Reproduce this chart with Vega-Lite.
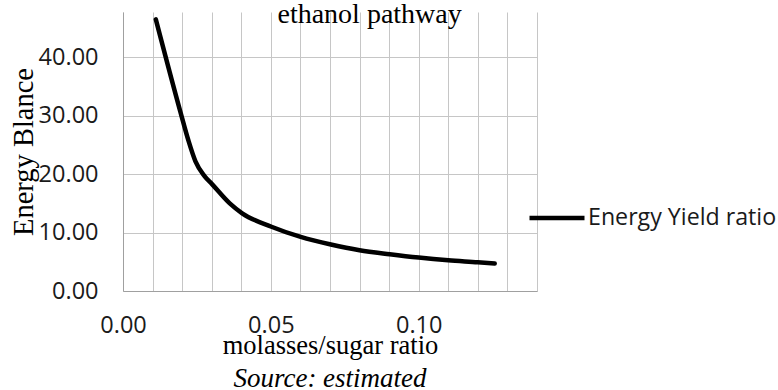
{
  "$schema": "https://vega.github.io/schema/vega-lite/v6.json",
  "autosize": {"type": "none"},
  "width": 414,
  "height": 279,
  "padding": {"left": 123, "top": 12, "right": 241, "bottom": 99},
  "background": "white",
  "config": {"view": {"stroke": null}},
  "title": {
    "text": "Source:  estimated",
    "orient": "bottom",
    "anchor": "middle",
    "font": "Liberation Serif",
    "fontStyle": "italic",
    "fontWeight": "normal",
    "fontSize": 27,
    "color": "black",
    "offset": 7
  },
  "layer": [
    {
      "data": {
        "values": [
          {"x": 0.0111, "y": 46.5, "series": "Energy Yield ratio"},
          {"x": 0.0195, "y": 30.5, "series": "Energy Yield ratio"},
          {"x": 0.0221, "y": 25.8, "series": "Energy Yield ratio"},
          {"x": 0.0245, "y": 22.2, "series": "Energy Yield ratio"},
          {"x": 0.0275, "y": 19.7, "series": "Energy Yield ratio"},
          {"x": 0.0301, "y": 18.3, "series": "Energy Yield ratio"},
          {"x": 0.0361, "y": 15.0, "series": "Energy Yield ratio"},
          {"x": 0.0403, "y": 13.3, "series": "Energy Yield ratio"},
          {"x": 0.0502, "y": 11.0, "series": "Energy Yield ratio"},
          {"x": 0.0601, "y": 9.25, "series": "Energy Yield ratio"},
          {"x": 0.0703, "y": 7.95, "series": "Energy Yield ratio"},
          {"x": 0.0800, "y": 6.97, "series": "Energy Yield ratio"},
          {"x": 0.0902, "y": 6.29, "series": "Energy Yield ratio"},
          {"x": 0.1000, "y": 5.72, "series": "Energy Yield ratio"},
          {"x": 0.1100, "y": 5.26, "series": "Energy Yield ratio"},
          {"x": 0.1200, "y": 4.92, "series": "Energy Yield ratio"},
          {"x": 0.1257, "y": 4.70, "series": "Energy Yield ratio"}
        ]
      },
      "mark": {"type": "line", "interpolate": "monotone", "strokeWidth": 4.5, "strokeCap": "round", "strokeJoin": "round", "clip": false},
      "encoding": {
        "x": {
          "field": "x",
          "type": "quantitative",
          "scale": {"domain": [0, 0.14], "nice": false, "zero": false},
          "axis": {
            "title": "molasses/sugar ratio",
            "titleFont": "Liberation Serif",
            "titleFontSize": 26.5,
            "titleFontWeight": "normal",
            "titleColor": "black",
            "titleBaseline": "alphabetic",
            "titleY": 62,
            "values": [0, 0.01, 0.02, 0.03, 0.04, 0.05, 0.06, 0.07, 0.08, 0.09, 0.1, 0.11, 0.12, 0.13, 0.14],
            "tickCount": 30,
            "labelExpr": "(format(datum.value, '.2f') == '0.00' || format(datum.value, '.2f') == '0.05' || format(datum.value, '.2f') == '0.10') ? format(datum.value, '.2f') : ''",
            "labelFont": "Open Sans",
            "labelFontSize": 23.5,
            "labelColor": "#1a1a1a",
            "labelBaseline": "alphabetic",
            "labelPadding": 41,
            "labelFlush": false,
            "labelOverlap": false,
            "ticks": false,
            "tickSize": 0,
            "grid": true,
            "gridColor": "#c6c6c6",
            "gridWidth": 1,
            "domainColor": "#a0a0a0",
            "domainWidth": 1
          }
        },
        "y": {
          "field": "y",
          "type": "quantitative",
          "scale": {"domain": [0, 47.76], "nice": false, "zero": true},
          "axis": {
            "title": "Energy Blance",
            "titleFont": "Liberation Serif",
            "titleFontSize": 28.5,
            "titleFontWeight": "normal",
            "titleColor": "black",
            "titleBaseline": "alphabetic",
            "titleAngle": -90,
            "titleX": -91,
            "titleY": 139.5,
            "titleAlign": "center",
            "values": [0, 10, 20, 30, 40],
            "tickCount": 10,
            "format": ".2f",
            "labelFont": "Open Sans",
            "labelFontSize": 23.5,
            "labelColor": "#1a1a1a",
            "labelPadding": 25,
            "ticks": false,
            "tickSize": 0,
            "grid": true,
            "gridColor": "#c6c6c6",
            "gridWidth": 1,
            "domainColor": "#a0a0a0",
            "domainWidth": 1
          }
        },
        "color": {
          "field": "series",
          "type": "nominal",
          "scale": {"range": ["black"]},
          "legend": {
            "title": null,
            "orient": "none",
            "legendX": 404,
            "legendY": 176,
            "padding": 0,
            "symbolType": "stroke",
            "symbolSize": 3025,
            "symbolStrokeWidth": 4.5,
            "symbolOffset": 0,
            "labelOffset": 1,
            "labelFont": "Open Sans",
            "labelFontSize": 23.2,
            "labelColor": "#1a1a1a",
            "labelLimit": 400
          }
        }
      }
    },
    {
      "data": {"values": [{"label": "ethanol pathway"}]},
      "mark": {"type": "text", "font": "Liberation Serif", "fontSize": 28, "fill": "black", "align": "center", "baseline": "alphabetic", "clip": false},
      "encoding": {
        "x": {"datum": 0.0834},
        "y": {"datum": 45.8},
        "text": {"field": "label"}
      }
    }
  ]
}
